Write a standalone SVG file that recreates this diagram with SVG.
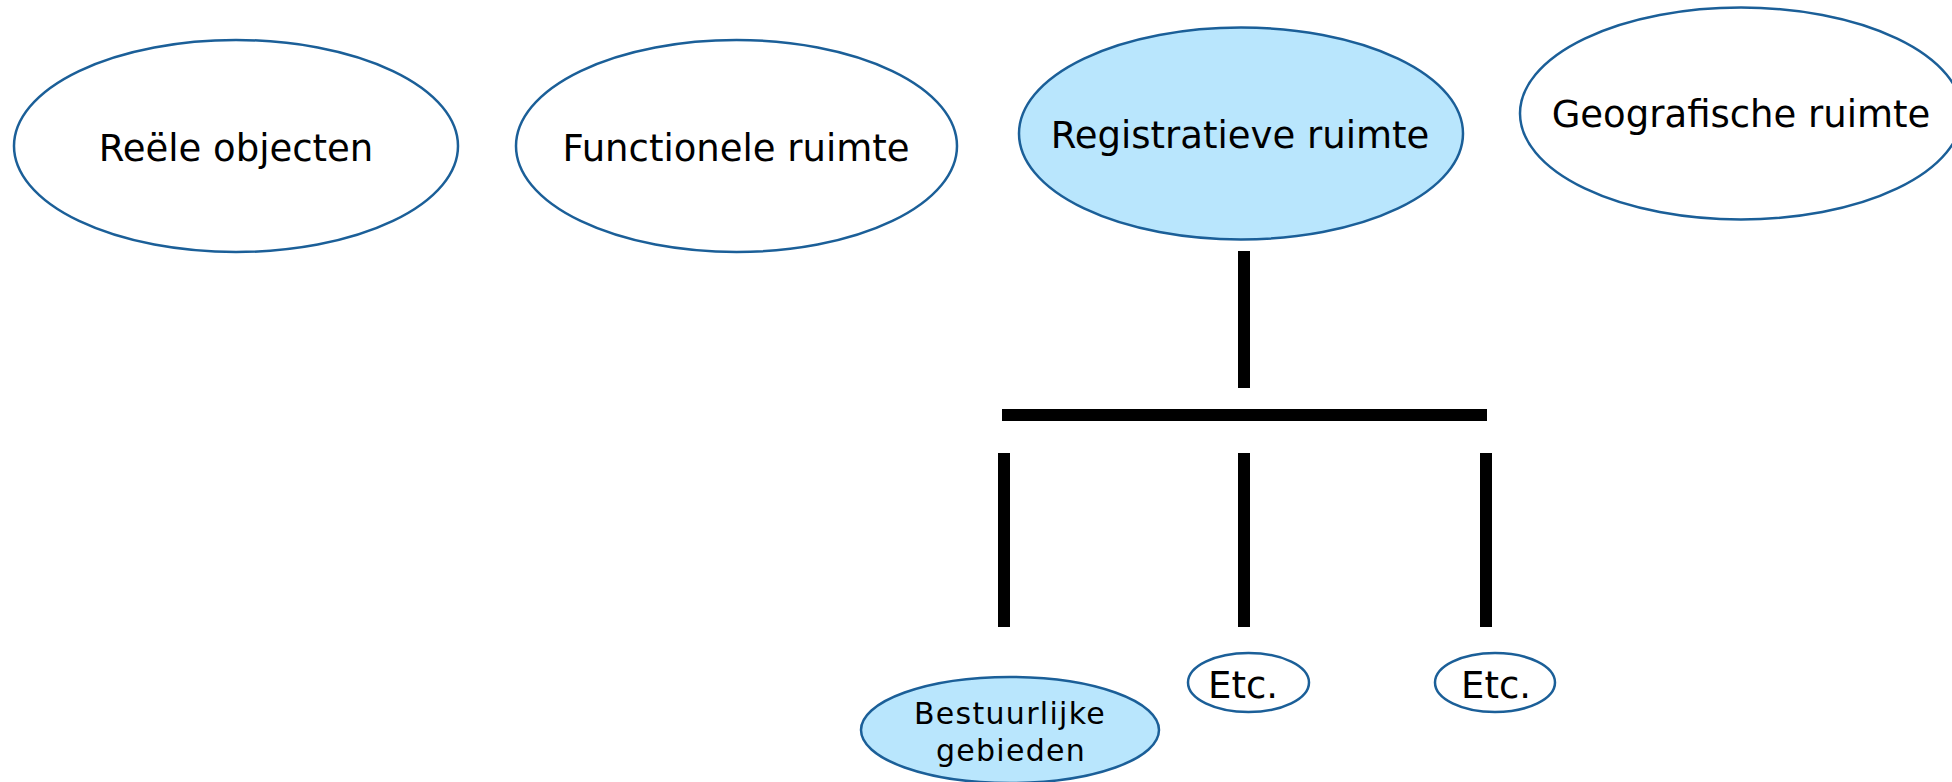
<svg xmlns="http://www.w3.org/2000/svg" width="1952" height="782" viewBox="0 0 1952 782">
<style>
.n{stroke:#1b5f98;stroke-width:2.5;fill:#ffffff}
.hl{fill:#b9e6fd}
.t{font-family:"DejaVu Sans","Liberation Sans",sans-serif;font-size:37px;fill:#000;text-anchor:middle}
.s{font-size:30px;letter-spacing:1.3px}
.c{fill:#000}
</style>
<rect width="1952" height="782" fill="#ffffff"/>
<g id="connectors">
<rect class="c" x="1238" y="251" width="12" height="137"/>
<rect class="c" x="1002" y="409" width="485" height="12"/>
<rect class="c" x="998" y="453" width="12" height="174"/>
<rect class="c" x="1238" y="453" width="12" height="174"/>
<rect class="c" x="1480" y="453" width="12" height="174"/>
</g>
<g id="reele-objecten">
<ellipse class="n" cx="236" cy="146" rx="222" ry="106"/>
<text class="t" x="236" y="161">Reële objecten</text>
</g>
<g id="functionele-ruimte">
<ellipse class="n" cx="736.5" cy="146" rx="220.5" ry="106"/>
<text class="t" x="736" y="161">Functionele ruimte</text>
</g>
<g id="registratieve-ruimte">
<ellipse class="n hl" cx="1241" cy="133.5" rx="222" ry="106"/>
<text class="t" x="1240" y="148">Registratieve ruimte</text>
</g>
<g id="geografische-ruimte">
<ellipse class="n" cx="1741" cy="113.5" rx="221" ry="106"/>
<text class="t" x="1741" y="127">Geografische ruimte</text>
</g>
<g id="bestuurlijke-gebieden">
<ellipse class="n hl" cx="1010" cy="730" rx="149" ry="53"/>
<text class="t s" x="1010" y="724">Bestuurlijke</text>
<text class="t s" x="1011" y="761">gebieden</text>
</g>
<g id="etc-1">
<ellipse class="n" cx="1248.5" cy="682.5" rx="60.5" ry="29.5"/>
<text class="t" x="1243" y="698">Etc.</text>
</g>
<g id="etc-2">
<ellipse class="n" cx="1495" cy="682.5" rx="60" ry="29.5"/>
<text class="t" x="1496" y="698">Etc.</text>
</g>
</svg>
